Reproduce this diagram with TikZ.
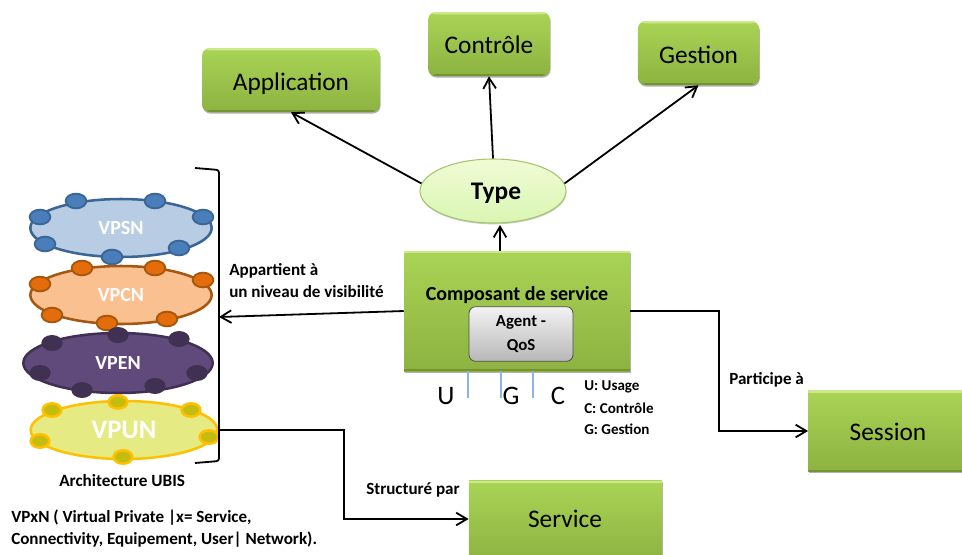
\documentclass[tikz,border=0pt]{standalone}
\usepackage{fontspec}
\setmainfont{Carlito}
\usetikzlibrary{shapes.geometric,shadows,arrows.meta,calc}
\definecolor{grtop}{HTML}{A9D455}\definecolor{grbot}{HTML}{8DB241}
\definecolor{grhi}{HTML}{CFE88A}\definecolor{grlo}{HTML}{729433}
\definecolor{sblue}{HTML}{B8CCE4}\definecolor{dblue}{HTML}{3B6595}\definecolor{mblue}{HTML}{4A7EBB}
\definecolor{sor}{HTML}{FAC090}\definecolor{dor}{HTML}{A5570F}\definecolor{mor}{HTML}{E46C0A}
\definecolor{spu}{HTML}{604A7B}\definecolor{dpu}{HTML}{403152}
\definecolor{syl}{HTML}{E6EA82}\definecolor{dyl}{HTML}{FFC000}\definecolor{myl}{HTML}{C4BD0F}
\definecolor{tickc}{HTML}{8EB4E3}
\definecolor{tytop}{HTML}{F1FBD6}\definecolor{tybot}{HTML}{D9F6B2}\definecolor{tyrim}{HTML}{A3C66A}
\tikzset{
  x=0.75pt,y=-0.75pt,
  greenbox/.style={rectangle,rounded corners=6pt,draw=none,top color=grtop,bottom color=grbot,
    drop shadow={shadow xshift=0.5pt,shadow yshift=-1.2pt,opacity=.3,fill=black},text=black,inner sep=0pt,
    path picture={
      \fill[grhi] (path picture bounding box.north west) rectangle ([yshift=-1.8pt]path picture bounding box.north east);
      \fill[grlo] (path picture bounding box.south west) rectangle ([yshift=1.4pt]path picture bounding box.south east);
    }},
  sq/.style={rounded corners=0pt},
  net/.style={ellipse,draw=#1,line width=1.9pt,minimum width=136pt,minimum height=43.5pt,inner sep=0pt,text=white,font=\bfseries\fontsize{15}{17}\selectfont},
  pt/.style={ellipse,minimum width=15.5pt,minimum height=11pt,inner sep=0pt},
  conn/.style={draw=black,line width=1.35pt,-{Straight Barb[length=8pt,width=9.5pt,line width=1.35pt]}},
  lab/.style={font=\bfseries\fontsize{11.3}{15}\selectfont,align=left,anchor=west,inner sep=0pt},
  lab2/.style={lab,font=\bfseries\fontsize{12.8}{16.5}\selectfont},
  tick/.style={draw=tickc,line width=0.8pt},
  letter/.style={font=\fontsize{20}{22}\selectfont,inner sep=0pt},
  big/.style={font=\fontsize{19}{21}\selectfont,inner sep=0pt},
}
\begin{document}
\begin{tikzpicture}
\useasboundingbox (0,0) rectangle (962,554);
\clip (0,0) rectangle (962,554);
% green boxes
\node[greenbox,minimum width=133.5pt,minimum height=48pt] (app) at (291,80) {};
\node[big] (apptxt) at (291,84) {Application};
\node[greenbox,minimum width=91.5pt,minimum height=48pt] (ctl) at (489,44) {};
\node[big] (ctltxt) at (489,45) {Contrôle};
\node[greenbox,minimum width=91pt,minimum height=48pt] (ges) at (698.5,53) {};
\node[big] (gestxt) at (698.5,55) {Gestion};
\node[greenbox,sq,minimum width=169.5pt,minimum height=90pt] (comp) at (517,311) {};
\node[font=\bfseries\fontsize{15}{17}\selectfont,inner sep=0pt] (comptxt) at (517,295) {Composant de service};
\node[rectangle,rounded corners=5pt,draw=black!70,line width=0.6pt,top color=black!5,bottom color=black!28,minimum width=78pt,minimum height=41pt,align=center,inner sep=0pt,font=\bfseries\fontsize{12.6}{18.5}\selectfont] (agent) at (521,334) {Agent -\\QoS};
\node[greenbox,sq,minimum width=130pt,minimum height=61pt] (ses) at (895,431) {};
\node[big] (sestxt) at (888,432) {Session};
\node[greenbox,sq,minimum width=145pt,minimum height=62pt] (ser) at (565.5,522) {};
\node[big] (sertxt) at (565,519) {Service};
% type
\node[ellipse,draw=tyrim,line width=0.8pt,top color=tytop,bottom color=tybot,minimum width=109.5pt,minimum height=48pt,inner sep=0pt,
  drop shadow={shadow xshift=0.3pt,shadow yshift=-1pt,opacity=.2,fill=black}] (type) at (493,191) {};
\node[font=\bfseries\fontsize{19}{21}\selectfont,inner sep=0pt] (typetxt) at (496,193) {Type};
% networks
\node[net=dblue,fill=sblue] (vpsn) at (121,228) {\raisebox{-1.5pt}{VPSN}};
\foreach \i/\x/\y in {1/76/201,2/155/201,3/203/217,4/179/248,5/112/257,6/45/244,7/40/217}
  \node[pt,draw=dblue,line width=1.4pt,fill=mblue] (s\i) at (\x,\y) {};
\node[net=dor,fill=sor] (vpcn) at (121,295) {\raisebox{-0.8pt}{VPCN}};
\foreach \i/\x/\y in {1/82/268,2/155/268,3/203/280,4/167/319,5/107/323,6/52/315,7/40/284}
  \node[pt,draw=dor,line width=1.4pt,fill=mor] (c\i) at (\x,\y) {};
\node[net=dpu,fill=spu,minimum width=142pt,minimum height=45pt] (vpen) at (118,363) {VPEN};
\foreach \i/\x/\y in {1/52/343,2/118/335,3/179/339,4/197/373,5/155/386,6/82/390,7/40/373}
  \node[pt,fill=dpu,minimum width=16pt,minimum height=12pt] (e\i) at (\x,\y) {};
\node[net=dyl,fill=syl,minimum width=140pt,font=\bfseries\fontsize{20}{22}\selectfont] (vpun) at (124,430) {VPUN};
\foreach \i/\x/\y in {1/52/410,2/118/402,3/191/410,4/209/437,5/123/457,6/40/441}
  \node[pt,draw=dyl,line width=1.9pt,fill=myl,minimum width=14pt,minimum height=10pt] (u\i) at (\x,\y) {};
% bracket
\coordinate (bt) at (195,168);\coordinate (bb) at (195,463);
\coordinate (bm) at (219,317);\coordinate (bs) at (219,430);
\draw[line width=1.35pt,rounded corners=2pt] (bt) -- (219,170) -- (219,461) -- (bb);
% connectors
\draw[conn] (type.174) -- (app.south);
\draw[conn] (type.north) -- (ctl.south);
\draw[conn] (type.6) -- (ges.south);
\coordinate (ct) at (500,251);\coordinate (cth) at (500,225);
\draw[conn] (ct) -- (cth);
\draw[conn] (comp.west) -- (bm);
\draw[conn] (comp.east) -| (719,431) -- (ses.west);
\draw[conn] (bs) -- (344,430) |- (ser.west|-sertxt);
% ticks
\coordinate (tu) at (468,398);\coordinate (tg) at (501,398);\coordinate (tc) at (533,398);
\draw[tick] (comp.south-|tu) -- (tu);
\draw[tick] (comp.south-|tg) -- (tg);
\draw[tick] (comp.south-|tc) -- (tc);
\node[letter] (lu) at (446,396) {U};
\node[letter] (lg) at (511,396) {G};
\node[letter] (lc) at (558,396) {C};
% labels
\node[lab] (l1) at (584,387) {U: Usage};
\node[lab] (l2) at (584,408) {C: Contrôle};
\node[lab] (l3) at (584,429) {G: Gestion};
\node[lab2] (appart) at (229,281) {Appartient à\\un niveau de visibilité};
\node[lab2] (part) at (729,380) {Participe à};
\node[lab2] (struct) at (366,490) {Structuré par};
\node[lab,font=\bfseries\fontsize{12.9}{14}\selectfont] (arch) at (59,481) {Architecture UBIS};
\node[lab2] (vpx) at (11,529) {VPxN ( Virtual Private |x= Service,\\Connectivity, Equipement, User| Network).};
\end{tikzpicture}
\end{document}
